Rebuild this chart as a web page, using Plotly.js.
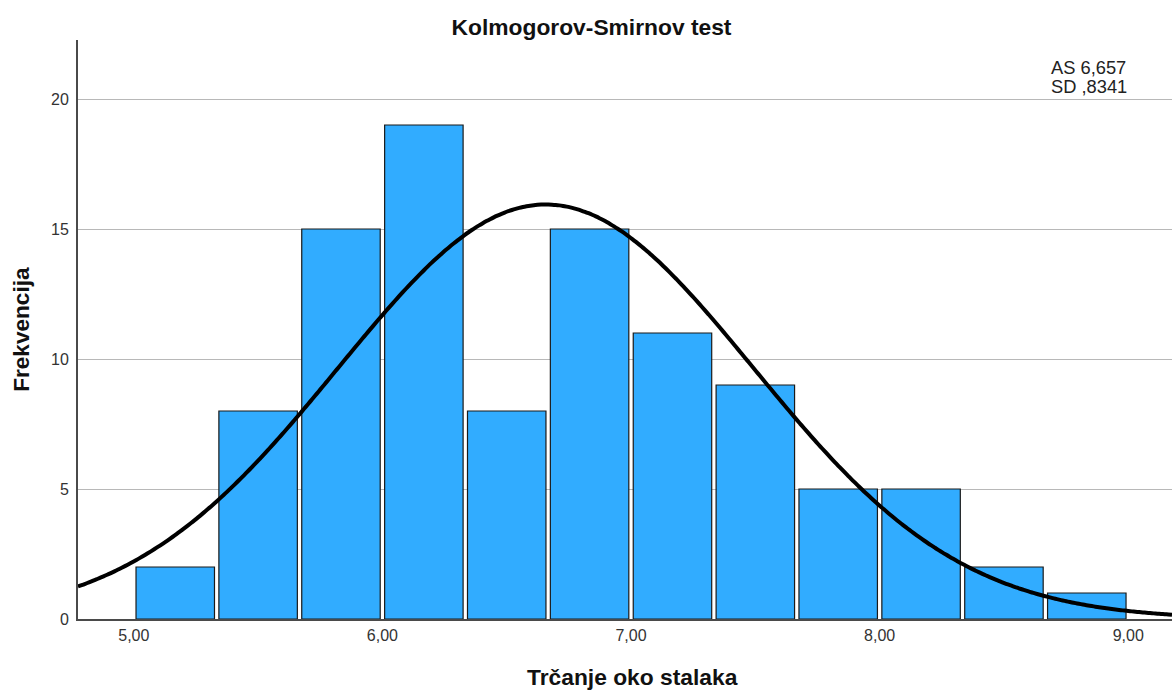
<!DOCTYPE html>
<html>
<head>
<meta charset="utf-8">
<script src="https://cdn.plot.ly/plotly-3.0.1.min.js"></script>
<style>html,body{margin:0;padding:0;background:#fff;}#chart{width:1172px;height:691px;}</style>
</head>
<body>
<div id="chart"></div>
<script>
// Histogram bins (centres) and frequencies
const binCenters = [5.1667, 5.5, 5.8333, 6.1667, 6.5, 6.8333, 7.1667, 7.5, 7.8333, 8.1667, 8.5, 8.8333];
const frequencies = [2, 8, 15, 19, 8, 15, 11, 9, 5, 5, 2, 1];
const binWidth = 1 / 3;

// Normal-curve parameters shown on the chart
const meanAS = 6.657;
const sdSD = 0.8341;

// Tick labels
const xTickVals = [5, 6, 7, 8, 9];
const xTickText = ["5,00", "6,00", "7,00", "8,00", "9,00"];
const yTickVals = [0, 5, 10, 15, 20];
const yTickText = ["0", "5", "10", "15", "20"];

const xRange = [4.7755, 9.176];
const yRange = [0, 22.27];

// Fitted normal curve scaled to the histogram (N * bin width * pdf)
const N = frequencies.reduce((a, b) => a + b, 0);
const curveX = [], curveY = [];
const steps = 300;
for (let i = 0; i <= steps; i++) {
  const x = xRange[0] + (xRange[1] - xRange[0]) * i / steps;
  const z = (x - meanAS) / sdSD;
  curveX.push(x);
  curveY.push(N * binWidth * Math.exp(-0.5 * z * z) / (sdSD * Math.sqrt(2 * Math.PI)));
}

const FONT = "Liberation Sans, Arial, Helvetica, sans-serif";

const traces = [
  {
    type: "bar",
    x: binCenters,
    y: frequencies,
    marker: { color: "#31acff", line: { color: "#1a1a1a", width: 1.2 } },
    hoverinfo: "skip"
  },
  {
    type: "scatter",
    mode: "lines",
    x: curveX,
    y: curveY,
    line: { color: "#000000", width: 4, shape: "spline" },
    hoverinfo: "skip"
  }
];

const layout = {
  width: 1172,
  height: 691,
  margin: { l: 78, r: 0, t: 40, b: 72 },
  paper_bgcolor: "#ffffff",
  plot_bgcolor: "#ffffff",
  showlegend: false,
  bargap: 0.053,
  font: { family: FONT, color: "#333333" },
  title: {
    text: "<b>Kolmogorov-Smirnov test</b>",
    font: { family: FONT, size: 22.8, color: "#111111" },
    x: 0.5047, xanchor: "center",
    y: 0.961, yanchor: "middle"
  },
  xaxis: {
    range: xRange,
    tickvals: xTickVals,
    ticktext: xTickText,
    tickfont: { family: FONT, size: 16, color: "#333333" },
    ticks: "",
    ticklabelstandoff: 1,
    showgrid: false,
    zeroline: false,
    showline: true,
    linecolor: "#4a4a4a",
    linewidth: 1.5,
    fixedrange: true
  },
  yaxis: {
    range: yRange,
    tickvals: yTickVals,
    ticktext: yTickText,
    tickfont: { family: FONT, size: 16, color: "#333333" },
    ticks: "",
    ticklabelstandoff: 4,
    showgrid: true,
    gridcolor: "#b8b8b8",
    gridwidth: 1,
    zeroline: false,
    showline: true,
    linecolor: "#4a4a4a",
    linewidth: 2,
    fixedrange: true
  },
  annotations: [
    {
      text: "AS 6,657", xref: "x", yref: "y", x: 8.683, y: 21.22,
      xanchor: "left", yanchor: "middle", showarrow: false,
      font: { family: FONT, size: 18.3, color: "#222222" }
    },
    {
      text: "SD ,8341", xref: "x", yref: "y", x: 8.683, y: 20.5,
      xanchor: "left", yanchor: "middle", showarrow: false,
      font: { family: FONT, size: 18.3, color: "#222222" }
    },
    {
      text: "<b>Frekvencija</b>", xref: "paper", yref: "y", x: -0.0512, y: 11.16,
      xanchor: "center", yanchor: "middle", textangle: -90, showarrow: false,
      font: { family: FONT, size: 22.6, color: "#111111" }
    },
    {
      text: "<b>Trčanje oko stalaka</b>", xref: "x", yref: "paper", x: 7.004, y: -0.1002,
      xanchor: "center", yanchor: "middle", showarrow: false,
      font: { family: FONT, size: 22.8, color: "#111111" }
    }
  ]
};

Plotly.newPlot("chart", traces, layout, { staticPlot: true, displayModeBar: false });
</script>
</body>
</html>
